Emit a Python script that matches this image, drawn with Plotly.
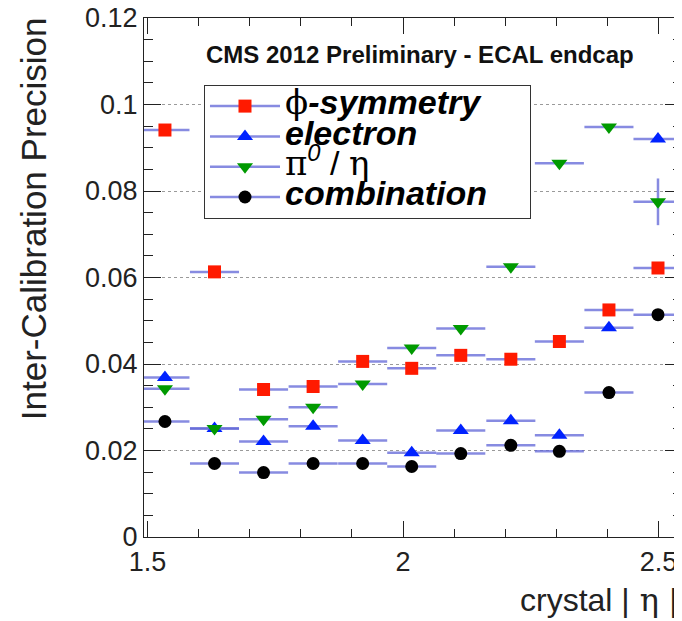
import plotly.graph_objects as go

# ---- data ----
eta_centers = [1.534, 1.631, 1.727, 1.824, 1.921, 2.017, 2.113, 2.211, 2.306, 2.403, 2.499]
eta_halfwidth = [0.048] * 11

phi_symmetry = [0.0941, 0.0613, 0.0341, 0.0348, 0.0406, 0.0390, 0.0420, 0.0411, 0.0452, 0.0525, 0.0622]
electron = [0.0369, 0.0251, 0.0221, 0.0256, 0.0223, 0.0195, 0.0246, 0.0269, 0.0235, 0.0484, 0.0920]
pi0_eta = [0.0343, 0.0251, 0.0272, 0.0300, 0.0354, 0.0437, 0.0482, 0.0625, 0.0864, 0.0948, 0.0775]
pi0_eta_err = [0, 0, 0, 0, 0, 0, 0, 0, 0, 0, 0.0054]
combination = [0.0267, 0.0170, 0.0149, 0.0170, 0.0170, 0.0163, 0.0193, 0.0212, 0.0198, 0.0334, 0.0514]

y_tickvals = [0, 0.02, 0.04, 0.06, 0.08, 0.1, 0.12]
y_ticktext = ["0", "0.02", "0.04", "0.06", "0.08", "0.1", "0.12"]
x_tickvals = [1.5, 2.0, 2.5]
x_ticktext = ["1.5", "2", "2.5"]

SERIF = "font-family:'DejaVu Serif'"
series_names = [
    f"<span style=\"font-size:34px\"><span style=\"{SERIF}\">ϕ</span><b><i>-symmetry</i></b></span>",
    "<span style=\"font-size:34px\"><b><i>electron</i></b></span>",
    f"<span style=\"font-size:34px\"><span style=\"{SERIF}\">π</span><sup><i>0</i></sup> / <span style=\"{SERIF}\">η</span></span>",
    "<span style=\"font-size:34px\"><b><i>combination</i></b>\u00a0\u00a0\u00a0\u00a0</span>",
]

ERR_COLOR = "rgba(95,100,215,0.75)"
styles = [
    dict(symbol="square", color="#ff1a00", size=13),
    dict(symbol="triangle-up", color="#0022ff", size=14),
    dict(symbol="triangle-down", color="#009a00", size=14),
    dict(symbol="circle", color="#000000", size=13),
]
values = [phi_symmetry, electron, pi0_eta, combination]

fig = go.Figure()
for vals, st in zip(values, styles):
    kw = {}
    if vals is pi0_eta:
        kw["error_y"] = dict(type="data", array=pi0_eta_err, visible=True,
                             color=ERR_COLOR, thickness=2.5, width=0)
    fig.add_trace(go.Scatter(
        x=eta_centers, y=vals, mode="markers",
        marker=dict(symbol=st["symbol"], color=st["color"], size=st["size"], line=dict(width=0)),
        error_x=dict(type="data", array=eta_halfwidth, visible=True,
                     color=ERR_COLOR, thickness=2.5, width=0),
        showlegend=False, hoverinfo="skip", **kw))

# legend entries
for name, st in zip(series_names, styles):
    fig.add_trace(go.Scatter(
        x=[None], y=[None], mode="lines+markers", name=name,
        line=dict(color=ERR_COLOR, width=2.5),
        marker=dict(symbol=st["symbol"], color=st["color"], size=st["size"], line=dict(width=0)),
    ))

FONT = "Liberation Sans, Arial, Helvetica, sans-serif"
AX = "#222222"

# page has an 8px body margin: figure is 674x613 so that it ends at 682x621
fig.update_layout(
    width=674, height=613,
    margin=dict(l=136, r=0, t=10, b=84, autoexpand=False),
    paper_bgcolor="white", plot_bgcolor="white",
    font=dict(family=FONT, color="black"),
    showlegend=True,
    legend=dict(
        x=0.1115, y=0.871, xanchor="left", yanchor="top",
        bgcolor="white", bordercolor="#333333", borderwidth=1,
        font=dict(family=FONT, size=21, color="black"),
        itemwidth=70, tracegroupgap=0,
    ),
    xaxis=dict(
        range=[1.493, 2.546], automargin=False,
        tickmode="array", tickvals=x_tickvals, ticktext=x_ticktext,
        ticks="inside", ticklen=16, tickcolor=AX, tickwidth=1.3,
        showline=True, linecolor=AX, linewidth=1.3, mirror="allticks",
        showgrid=False, zeroline=False, ticklabeloverflow="allow",
        tickfont=dict(size=27, family=FONT, color="#222"),
        minor=dict(tickmode="linear", dtick=0.1, tick0=1.5, ticks="inside", ticklen=8,
                   tickcolor=AX, tickwidth=1.3, showgrid=False),
    ),
    yaxis=dict(
        range=[0, 0.12], automargin=False,
        tickmode="array", tickvals=y_tickvals, ticktext=y_ticktext,
        ticks="inside", ticklen=17, tickcolor=AX, tickwidth=1.3,
        showline=True, linecolor=AX, linewidth=1.3, mirror="allticks",
        showgrid=True, gridcolor="#9a9a9a", griddash="dot", gridwidth=1,
        zeroline=False, ticklabeloverflow="allow",
        tickfont=dict(size=27, family=FONT, color="#222"),
        minor=dict(tickmode="linear", dtick=0.005, tick0=0, ticks="inside", ticklen=9,
                   tickcolor=AX, tickwidth=1.3, showgrid=False),
    ),
    annotations=[
        dict(text="<b>CMS 2012 Preliminary - ECAL endcap</b>", x=0.513, y=0.929,
             xref="paper", yref="paper", xanchor="center", yanchor="middle",
             showarrow=False, font=dict(size=24, family=FONT, color="#111")),
        dict(text="Inter-Calibration Precision", x=-0.206, y=0.6127,
             xref="paper", yref="paper", xanchor="center", yanchor="middle",
             textangle=-90, showarrow=False, font=dict(size=35, family=FONT, color="#222")),
        dict(text=f"crystal |<span style=\"{SERIF}\"> η </span>|", x=0.995, y=-0.121,
             xref="paper", yref="paper", xanchor="right", yanchor="middle",
             showarrow=False, font=dict(size=32, family=FONT, color="#222")),
    ],
)

fig.write_html("out.html")
